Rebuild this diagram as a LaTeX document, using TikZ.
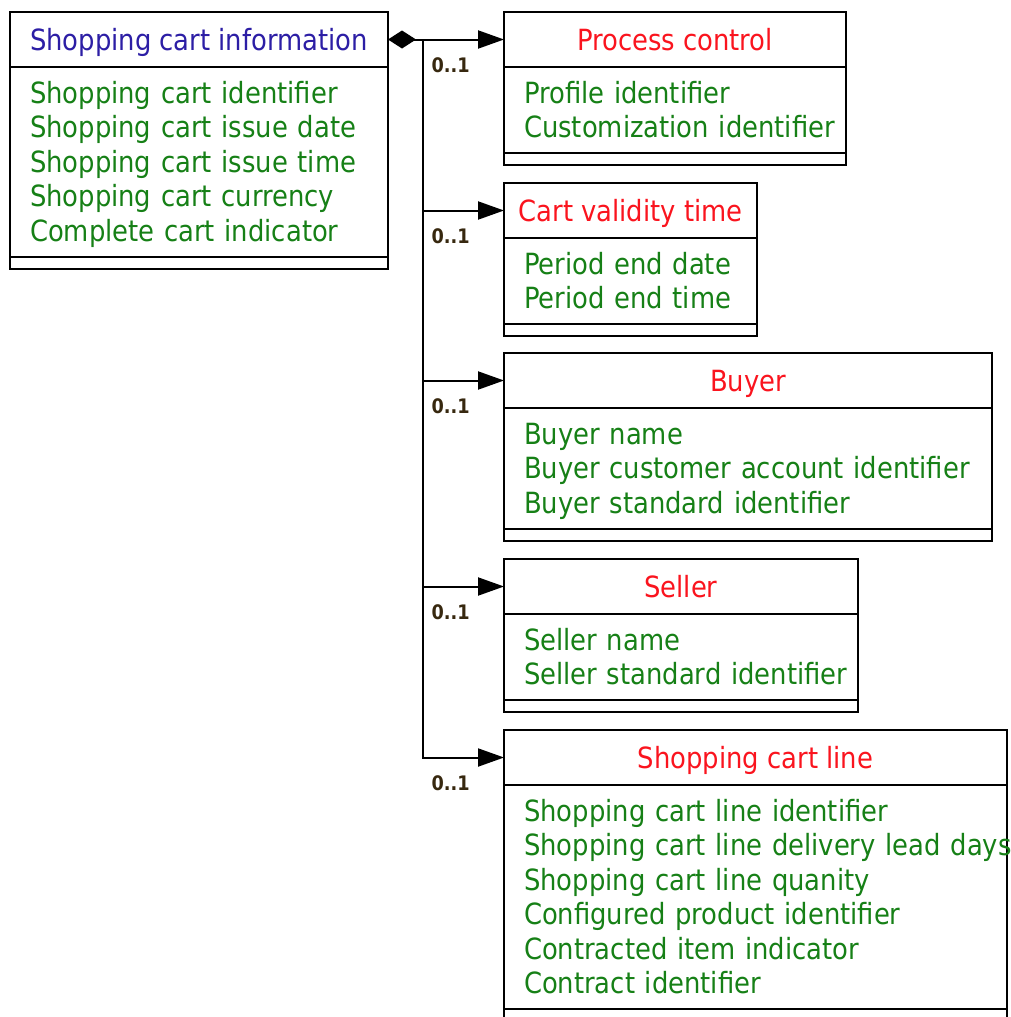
\documentclass[tikz,border=0pt]{standalone}
\usepackage{fontspec}
\setmainfont{DejaVu Sans}[FakeStretch=0.885]
\usetikzlibrary{positioning,arrows.meta}
\definecolor{clsnavy}{RGB}{44,30,165}
\definecolor{clsred}{RGB}{250,20,30}
\definecolor{attrgreen}{RGB}{22,128,22}
\definecolor{multdark}{RGB}{55,40,15}
\newcommand\attrlist[1]{\noindent\raisebox{-1.7pt}[\height][\depth]{\begin{tabular}{@{}l@{}}#1\end{tabular}}}
\tikzset{
  box font/.style={font=\fontsize{14.6}{17.25}\selectfont},
  clshead/.style={draw, line width=1pt, box font, outer sep=0pt, inner sep=0pt,
    minimum width=#1, minimum height=27.5pt, text height=12pt, text depth=1.5pt, text=clsred},
  clsattr/.style={draw, line width=1pt, box font, outer sep=0pt, inner xsep=10pt,
    inner ysep=4.25pt, text width=#1, align=left, text=attrgreen},
  clsend/.style={draw, line width=1pt, outer sep=0pt, inner sep=0pt,
    minimum width=#1, minimum height=6pt},
  assoc/.style={line width=1pt},
  navtip/.style={-{Triangle[length=13pt,width=9pt]}},
  mult/.style={font=\bfseries\fontsize{10}{12}\selectfont, text=multdark, inner sep=0pt, yshift=-13pt}
}
\begin{document}
\begin{tikzpicture}[x=0.5pt, y=-0.5pt]
  \useasboundingbox (0,0) rectangle (1011,1017);
  \clip (0,0) rectangle (1011,1017);
  % shopping cart information
  \node[clshead=189pt, text=clsnavy, anchor=north west] (info) at (10,12) {Shopping cart information};
  \node[clsattr=169pt, below=0pt of info] (info-attr) {\attrlist{Shopping cart identifier\\
    Shopping cart issue date\\ Shopping cart issue time\\ Shopping cart currency\\ Complete cart indicator}};
  \node[clsend=189pt, below=0pt of info-attr] (info-end) {};
  % process control
  \node[clshead=171pt, anchor=north west] (pc) at (504,12) {Process control};
  \node[clsattr=151pt, below=0pt of pc] (pc-attr) {\attrlist{Profile identifier\\ Customization identifier}};
  \node[clsend=171pt, below=0pt of pc-attr] (pc-end) {};
  % cart validity time
  \node[clshead=126.5pt, anchor=north west] (cvt) at (504,183) {Cart validity time};
  \node[clsattr=106.5pt, below=0pt of cvt] (cvt-attr) {\attrlist{Period end date\\ Period end time}};
  \node[clsend=126.5pt, below=0pt of cvt-attr] (cvt-end) {};
  % buyer
  \node[clshead=244pt, anchor=north west] (buyer) at (504,353) {Buyer};
  \node[clsattr=224pt, below=0pt of buyer] (buyer-attr) {\attrlist{Buyer name\\
    Buyer customer account identifier\\ Buyer standard identifier}};
  \node[clsend=244pt, below=0pt of buyer-attr] (buyer-end) {};
  % seller
  \node[clshead=177pt, anchor=north west] (seller) at (504,559) {Seller};
  \node[clsattr=157pt, below=0pt of seller] (seller-attr) {\attrlist{Seller name\\ Seller standard identifier}};
  \node[clsend=177pt, below=0pt of seller-attr] (seller-end) {};
  % shopping cart line
  \node[clshead=251.5pt, anchor=north west] (scl) at (504,730) {Shopping cart line};
  \node[clsattr=231.5pt, below=0pt of scl] (scl-attr) {\attrlist{Shopping cart line identifier\\
    Shopping cart line delivery lead days\\ Shopping cart line quanity\\ Configured product identifier\\
    Contracted item indicator\\ Contract identifier}};
  \node[clsend=251.5pt, below=0pt of scl-attr] (scl-end) {};
  % associations
  \coordinate (trunk) at ([xshift=17.5pt]info.east);
  \draw[assoc, {Diamond[length=14pt,width=9pt]}-{Triangle[length=13pt,width=9pt]}] (info.east)
    -- node[mult, pos=0.54] {0..1} (pc.west);
  \draw[assoc, navtip] (trunk) |- node[mult, pos=0.67] {0..1} (cvt.west);
  \draw[assoc, navtip] (trunk) |- node[mult, pos=0.67] {0..1} (buyer.west);
  \draw[assoc, navtip] (trunk) |- node[mult, pos=0.67] {0..1} (seller.west);
  \draw[assoc, navtip] (trunk) |- node[mult, pos=0.67] {0..1} (scl.west);
\end{tikzpicture}
\end{document}
